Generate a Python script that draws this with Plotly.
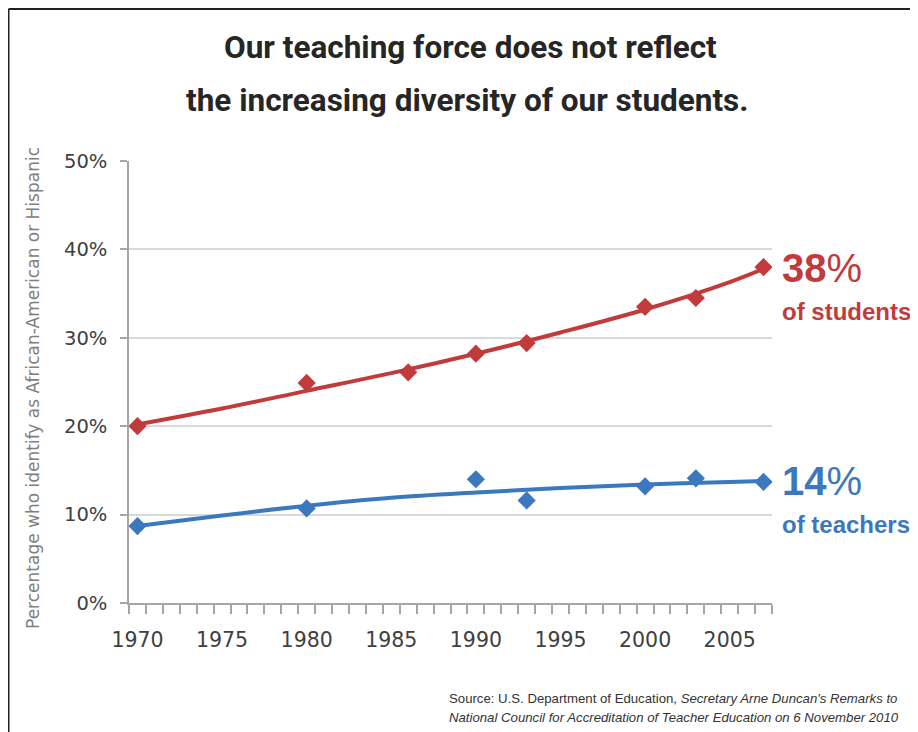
import plotly.graph_objects as go

# ---- data ----
student_years = [1970, 1980, 1986, 1990, 1993, 2000, 2003, 2007]
student_pct = [20.0, 24.9, 26.1, 28.2, 29.4, 33.5, 34.5, 38.0]
teacher_years = [1970, 1980, 1990, 1993, 2000, 2003, 2007]
teacher_pct = [8.7, 10.7, 14.0, 11.6, 13.2, 14.1, 13.7]

# trend lines
student_trend_years = [1970, 1975, 1980, 1985, 1990, 1995, 2000, 2005, 2007]
student_trend_pct = [20.2, 22.0, 24.0, 26.0, 28.2, 30.6, 33.2, 36.3, 37.8]
teacher_trend_years = [1970, 1975, 1980, 1985, 1990, 1995, 2000, 2005, 2007]
teacher_trend_pct = [8.7, 9.9, 11.0, 11.9, 12.5, 13.0, 13.4, 13.7, 13.8]

x_ticks = [1970, 1975, 1980, 1985, 1990, 1995, 2000, 2005]
y_ticks = [0, 10, 20, 30, 40, 50]
y_tick_labels = ["0%", "10%", "20%", "30%", "40%", "50%"]

RED = "#C23B3C"
BLUE = "#3C78BE"
TXT = "#404040"

# page is offset by the browser's 8px body margin
W, H = 910, 724
L, T, PW, PH = 121, 153, 643, 442

fig = go.Figure()
fig.add_trace(go.Scatter(x=student_trend_years, y=student_trend_pct, mode="lines",
                         line=dict(color=RED, width=4, shape="spline"), hoverinfo="skip"))
fig.add_trace(go.Scatter(x=teacher_trend_years, y=teacher_trend_pct, mode="lines",
                         line=dict(color=BLUE, width=4, shape="spline"), hoverinfo="skip"))
fig.add_trace(go.Scatter(x=student_years, y=student_pct, mode="markers",
                         marker=dict(symbol="diamond", size=14, color=RED)))
fig.add_trace(go.Scatter(x=teacher_years, y=teacher_pct, mode="markers",
                         marker=dict(symbol="diamond", size=14, color=BLUE)))

title_font = dict(family="Roboto, Liberation Sans, sans-serif", size=31.5, color="#262626")
tick_family = "DejaVu Sans, Liberation Sans, sans-serif"

fig.update_layout(
    width=W, height=H,
    margin=dict(l=L, r=W - L - PW, t=T, b=H - T - PH),
    paper_bgcolor="white", plot_bgcolor="white",
    showlegend=False,
    xaxis=dict(range=[1969.5, 2007.5], tickvals=x_ticks, showgrid=False, zeroline=False,
               showline=True, linecolor="#a6a6a6", linewidth=1.5,
               ticks="", ticklabelstandoff=18,
               minor=dict(dtick=1, tick0=1969.5, ticks="outside", ticklen=9, tickcolor="#a6a6a6", tickwidth=1.5),
               tickfont=dict(family=tick_family, size=20.5, color=TXT)),
    yaxis=dict(range=[0, 50], tickvals=y_ticks, ticktext=y_tick_labels,
               showgrid=True, gridcolor="#d9d9d9", gridwidth=1.5, zeroline=False,
               showline=True, linecolor="#a6a6a6", linewidth=1.5,
               ticks="outside", ticklen=7, tickcolor="#a6a6a6", tickwidth=1.5,
               ticklabelstandoff=9,
               tickfont=dict(family=tick_family, size=19.5, color=TXT)),
)

fig.add_annotation(text="Percentage who identify as African-American or Hispanic",
                   xref="paper", yref="paper", x=-(129 - 33) / PW, y=(603 - 388) / PH,
                   xanchor="center", yanchor="middle", textangle=-90, showarrow=False,
                   font=dict(family=tick_family, size=17, color="#7f7f7f"))

fig.add_annotation(text="<b>Our teaching force does not reflect</b>", xref="paper", yref="paper",
                   x=(470 - 129) / PW, y=1 + (161 - 47) / PH, xanchor="center", yanchor="middle",
                   showarrow=False, font=title_font)
fig.add_annotation(text="<b>the increasing diversity of our students.</b>", xref="paper", yref="paper",
                   x=(467 - 129) / PW, y=1 + (161 - 100) / PH, xanchor="center", yanchor="middle",
                   showarrow=False, font=title_font)

big = dict(family="Liberation Sans, Arial, sans-serif", size=40)
small = dict(family="Liberation Sans, Arial, sans-serif", size=24)
xr = 1 + 8 / PW
fig.add_annotation(text="<b>38</b>%", xref="paper", yref="y", x=xr, y=37.9,
                   xanchor="left", yanchor="middle", showarrow=False, font=dict(big, color=RED))
fig.add_annotation(text="<b>of students</b>", xref="paper", yref="y", x=xr, y=33.0,
                   xanchor="left", yanchor="middle", showarrow=False, font=dict(small, color=RED))
fig.add_annotation(text="<b>14</b>%", xref="paper", yref="y", x=xr, y=13.8,
                   xanchor="left", yanchor="middle", showarrow=False, font=dict(big, color=BLUE))
fig.add_annotation(text="<b>of teachers</b>", xref="paper", yref="y", x=xr, y=8.9,
                   xanchor="left", yanchor="middle", showarrow=False, font=dict(small, color=BLUE))

src_font = dict(family="Liberation Sans, Arial, sans-serif", size=13.2, color="#333333")
fig.add_annotation(text="Source: U.S. Department of Education, <i>Secretary Arne Duncan's Remarks to</i>",
                   xref="paper", yref="paper", x=(447 - 129) / PW, y=-(698 - 603) / PH,
                   xanchor="left", yanchor="middle", showarrow=False, font=src_font)
fig.add_annotation(text="<i>National Council for Accreditation of Teacher Education on 6 November 2010</i>",
                   xref="paper", yref="paper", x=(447 - 129) / PW, y=-(717 - 603) / PH,
                   xanchor="left", yanchor="middle", showarrow=False, font=src_font)

# frame lines (top and left) of the original picture
fx = -(L - 0.5) / PW
fy = 1 + (T - 1) / PH
fig.add_shape(type="line", xref="paper", yref="paper", x0=fx, x1=1 + (W - L - PW) / PW,
              y0=fy, y1=fy, line=dict(color="#222222", width=2))
fig.add_shape(type="line", xref="paper", yref="paper", x0=fx, x1=fx,
              y0=fy, y1=-(H - T - PH) / PH, line=dict(color="#222222", width=2))

fig.write_html("out.html")
